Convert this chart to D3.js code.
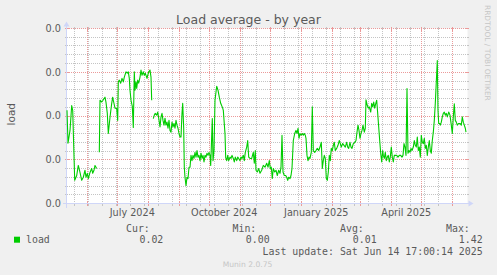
<!DOCTYPE html>
<html><head><meta charset="utf-8">
<script src="https://cdn.jsdelivr.net/npm/d3@7"></script>
<style>html,body{margin:0;padding:0;background:#f0f0f0;}svg{display:block;}</style>
</head><body>
<svg id="c" width="497" height="275"></svg>
<script>
// ---- data ----
const title = "Load average - by year";
const yLabel = "load";
const startTime = new Date(2024, 4, 10, 17, 0, 0);
const endTime = new Date(2025, 5, 14, 17, 0, 0);
const yTicks = [0, 0.01, 0.02, 0.03, 0.04];
const yTickLabels = ["0.0", "0.0", "0.0", "0.0", "0.0"];
const xLabelMonths = [new Date(2024, 6, 1), new Date(2024, 9, 1), new Date(2025, 0, 1), new Date(2025, 3, 1)];
const xLabels = ["July 2024", "October 2024", "January 2025", "April 2025"];
const seriesName = "load";
const legendHeads = ["Cur:", "Min:", "Avg:", "Max:"];
const legendValues = ["0.02", "0.00", "0.01", "1.42"];
const lastUpdate = "Last update: Sat Jun 14 17:00:14 2025";
const footer = "Munin 2.0.75";
const watermark = "RRDTOOL / TOBI OETIKER";

// days since startTime
const dayOffsets = [1,2,4,5.7,6.7,8.7,10.7,12.3,14,15.7,17.3,19,20,21.3,22.3,24,25.7,26.7,28,29,30.7,32,
33.3,34,35.7,37,39,40,41.3,42.3,44,45.7,46.7,47.3,49,50.7,51.7,52.3,53.3,54.7,56,57.3,58.3,60,61.3,62.3,63.3,64,65,66.3,67.3,68.3,69,70,70.7,71.7,72.7,74,75,76,77.3,78.3,79.3,81,81.7,82.7,84,85,85.7,86.5,
87.3,88.3,89.3,90.7,91.7,92.7,94,95,96,97,98,99,100,101,102,103,104,105,106,107,108,109,110,111,112,113,114,115,116,116.7,117.7,118.3,119,120,121,122,123,124,125,126,127,128,129,130,131,132,133,134,135,136,137,138,139,140,141,142,143,144,144.7,146.3,147,148,149,150.7,152,153.3,154.7,156.7,157.3,159,159.7,160.7,161.7,162.7,164,165,166,167.3,168.3,169.3,170.7,171.7,172.7,174,175,176,177.3,178.3,179.3,180.7,181.7,182.7,184,185.7,187.3,188.3,189.3,190,191.3,192.7,194,195.7,197.3,199,200.7,202,203.3,204.3,205.3,206.3,207.3,208.7,210,211.3,212.7,214,215,216,217,218.3,219.7,220.7,221.7,222.7,224,225,226,227.3,228.7,230,231,232,233,234,235,236.3,237.3,238.3,239.3,240,241,242,243,244,245.3,246.3,247.3,248.7,250,251.3,252.7,254,255.3,256.3,257.3,258.3,259.3,260.3,261.3,262.3,263.3,264.3,265.3,266.3,267.3,268.3,269.3,270.7,272,273.3,274.3,275.3,276.7,278,279.3,280.7,281.7,282.7,284,285,286,287.3,289,290,291,292,293,294,295,296,297,298.3,299.3,300,301.3,302.3,303.3,304.7,305.7,306.7,307.7,308.7,309.7,310.7,311.7,312.7,313.7,314.7,315.7,316.7,317.3,318.3,319.3,320.3,321.3,322.3,323.3,324.3,325.3,326.3,327.3,328.3,329.3,330.7,332,333.3,334.7,336,337,338,339,340,341,342,343,344,345,346,347.3,348.3,349.3,350.3,351.3,352.3,353.3,354.3,355.3,356.3,357.3,358.3,359.3,360.3,361.3,362.3,363.3,364.3,365.3,366.3,367.3,368.3,369.3,371.3,372,372.7,373.7,374.3,375.3,376.3,377.3,378.3,379.3,380.3,381.3,382.7,384,385.3,386.3,387.3,388.3,389.3,390.3,391.3,392.7,394,395.3,396.3,397.3,398.3,399.3,400];

const loadValues = [0.0213,0.0138,0.0167,0.0224,0.0213,0.0053,0.0064,0.0087,0.0071,0.0053,0.0060,0.0076,0.0060,0.0069,0.0057,0.0071,0.0080,0.0069,0.0076,0.0087,0.0080,null,
0.0117,0.0236,0.0232,0.0236,0.0243,0.0231,0.0206,0.0160,0.0197,0.0229,0.0243,0.0236,0.0218,0.0217,0.0190,0.0278,0.0282,0.0275,0.0286,0.0278,0.0289,0.0301,0.0298,0.0301,0.0286,0.0259,0.0236,0.0222,0.0174,0.0301,0.0259,0.0278,0.0263,0.0282,0.0275,0.0289,0.0305,0.0293,0.0301,0.0293,0.0298,0.0286,0.0293,0.0301,0.0305,0.0289,0.0236,null,
0.0194,0.0202,0.0206,0.0202,0.0209,0.0195,0.0175,0.0198,0.0206,0.0190,0.0179,0.0195,0.0179,0.0186,0.0172,0.0190,0.0167,0.0163,0.0186,0.0175,0.0183,0.0172,0.0190,0.0179,0.0172,0.0160,0.0152,0.0152,0.0206,0.0229,0.0172,0.0083,0.0060,0.0041,0.0060,0.0057,0.0083,0.0083,0.0110,0.0098,0.0110,0.0103,0.0117,0.0106,0.0121,0.0106,0.0110,0.0098,0.0115,0.0103,0.0110,0.0095,0.0110,0.0106,0.0115,0.0110,0.0117,0.0110,0.0087,0.0194,0.0098,0.0121,0.0236,0.0268,0.0259,0.0243,0.0229,0.0218,0.0213,0.0160,0.0105,0.0098,0.0110,0.0098,0.0106,0.0103,0.0110,0.0103,0.0095,0.0106,0.0098,0.0106,0.0103,0.0098,0.0106,0.0103,0.0110,0.0098,0.0117,0.0129,0.0144,0.0106,0.0103,0.0103,0.0117,0.0092,0.0121,0.0076,0.0072,0.0080,0.0069,0.0076,0.0087,0.0083,0.0092,0.0083,0.0098,0.0080,0.0083,0.0057,0.0080,0.0072,0.0076,0.0064,0.0076,0.0069,0.0083,0.0156,0.0072,0.0064,0.0064,0.0060,0.0053,0.0060,0.0057,0.0064,0.0080,0.0144,0.0160,0.0167,0.0160,0.0172,0.0149,0.0160,0.0156,0.0160,0.0156,0.0160,0.0156,0.0149,0.0110,0.0098,0.0106,0.0103,0.0117,0.0221,0.0121,0.0117,0.0121,0.0126,0.0121,0.0129,0.0140,0.0080,0.0098,0.0110,0.0103,0.0057,0.0053,0.0072,0.0110,0.0098,0.0126,0.0121,0.0133,0.0140,0.0121,0.0126,0.0133,0.0144,0.0137,0.0129,0.0137,0.0133,0.0129,0.0140,0.0129,0.0126,0.0140,0.0129,0.0126,0.0137,0.0140,0.0144,0.0163,0.0179,0.0167,0.0149,0.0160,0.0167,0.0179,0.0163,0.0172,0.0237,0.0224,0.0218,0.0221,0.0209,0.0229,0.0221,0.0232,0.0218,0.0228,0.0236,0.0206,0.0175,0.0144,0.0115,0.0095,0.0121,0.0110,0.0103,0.0117,0.0098,0.0106,0.0110,0.0095,0.0106,0.0129,0.0106,0.0095,0.0110,0.0110,0.0110,0.0106,0.0110,0.0110,0.0106,0.0110,0.0137,0.0129,0.0110,0.0263,0.0115,0.0121,0.0117,0.0126,0.0121,0.0129,0.0144,0.0133,0.0129,0.0152,0.0121,0.0129,0.0106,0.0156,0.0140,0.0137,0.0149,0.0126,0.0133,0.0110,0.0129,0.0144,0.0121,0.0115,0.0144,0.0163,0.0190,0.0229,0.0327,0.0213,0.0183,0.0183,0.0179,0.0186,0.0198,0.0206,0.0209,0.0202,0.0206,0.0198,0.0209,0.0202,0.0179,0.0160,0.0198,0.0228,0.0190,0.0186,0.0179,0.0183,0.0183,0.0179,0.0198,0.0186,0.0179,0.0172,0.0163];

// ---- drawing ----
const svg = d3.select("#c");
const W = 497, H = 275;
const X0 = 66.5, X1 = 466.5, Y0 = 203.5, Y1 = 28.5;
const x = d3.scaleTime().domain([startTime, endTime]).range([66, 466]);
const y = d3.scaleLinear().domain([0, 0.04]).range([Y0, Y1]);
const snap = v => Math.floor(v) + 0.5;
const FONT = "DejaVu Sans, Verdana, sans-serif";
const MONO = "DejaVu Sans Mono, monospace";
const TXT = "#5a5a5a";
const GRID = "#c4c4c4";
const MGRID = "#eb9a9a";
const AXIS = "#CFD6F8";

svg.append("rect").attr("width", W).attr("height", H).attr("fill", "#f0f0f0");
svg.append("rect").attr("x", X0).attr("y", Y1).attr("width", X1 - X0 + 1).attr("height", Y0 - Y1).attr("fill", "#ffffff");

const g = svg.append("g");
function seg(x1, y1, x2, y2, col, dash) {
  const l = g.append("line").attr("x1", x1).attr("y1", y1).attr("x2", x2).attr("y2", y2)
    .attr("stroke", col).attr("stroke-width", 1).attr("shape-rendering", "crispEdges");
  if (dash) l.attr("stroke-dasharray", dash);
}

// horizontal grid
const minorY = d3.range(0, 41).map(i => i * 0.001).filter((v, i) => i % 2 === 0 && i % 10 !== 0);
minorY.forEach(v => {
  const yy = snap(y(v));
  seg(X0 - 2, yy, X0, yy, GRID);
  seg(X1, yy, X1 + 2, yy, GRID);
  seg(X0, yy, X1, yy, GRID, "1,1");
});
yTicks.forEach(v => {
  const yy = snap(y(v));
  seg(X0 - 2, yy, X0 + 2, yy, MGRID);
  seg(X1 - 2, yy, X1 + 2, yy, MGRID);
  seg(X0, yy, X1, yy, MGRID, "1,1");
});

// vertical grid: minor every two weeks, major monthly
const minorX = [];
for (let t = new Date(2024, 4, 19); t < endTime; t = d3.timeDay.offset(t, 14)) minorX.push(t);
minorX.forEach(t => {
  const xx = snap(x(t));
  seg(xx, Y0, xx, Y0 + 2, GRID);
  seg(xx, Y1 - 2, xx, Y1, GRID);
  seg(xx, Y1, xx, Y0, GRID, "1,1");
});
d3.timeMonth.range(d3.timeMonth.ceil(startTime), endTime).forEach(t => {
  const xx = snap(x(t));
  seg(xx, Y0 - 2, xx, Y0 + 2, MGRID);
  seg(xx, Y1 - 2, xx, Y1 + 2, MGRID);
  seg(xx, Y1, xx, Y0, MGRID, "1,1");
});

// data line
const data = dayOffsets.map((d, i) => ({ t: new Date(startTime.getTime() + d * 86400000), v: loadValues[i] }));
const line = d3.line().defined(d => d.v != null).x(d => x(d.t)).y(d => y(Math.min(d.v, 0.04)));
svg.append("path").datum(data).attr("d", line).attr("fill", "none")
  .attr("stroke", "#00cc00").attr("stroke-width", 1.1).attr("stroke-linejoin", "round");

// axes
seg(X0 - 4, Y0, X1 + 4, Y0, AXIS);
seg(X0, Y0 + 4, X0, Y1 - 4, AXIS);
svg.append("path").attr("d", `M${X1 + 2},${Y0 - 3}L${X1 + 2},${Y0 + 3}L${X1 + 7},${Y0}Z`).attr("fill", AXIS);
svg.append("path").attr("d", `M${X0 - 3},${Y1 - 2}L${X0 + 3},${Y1 - 2}L${X0},${Y1 - 7}Z`).attr("fill", AXIS);

// y labels
yTicks.forEach((v, i) => {
  svg.append("text").attr("x", 61).attr("y", y(v) + 3.3).attr("text-anchor", "end")
    .attr("font-family", FONT).attr("font-size", 9.7).attr("fill", TXT).text(yTickLabels[i]);
});
// x labels (centered half a month after the month start)
xLabelMonths.forEach((m, i) => {
  svg.append("text").attr("x", x(d3.timeDay.offset(m, 15))).attr("y", 215.5).attr("text-anchor", "middle")
    .attr("font-family", FONT).attr("font-size", 9.7).attr("fill", TXT).text(xLabels[i]);
});

// title
svg.append("text").attr("x", 248.5).attr("y", 24).attr("text-anchor", "middle")
  .attr("font-family", FONT).attr("font-size", 12.5).attr("fill", TXT).text(title);
// y axis label
svg.append("text").attr("transform", "translate(15,114.2) rotate(-90)").attr("text-anchor", "middle")
  .attr("font-family", FONT).attr("font-size", 10.5).attr("fill", TXT).text(yLabel);
// watermark
svg.append("text").attr("transform", "translate(484.5,5) rotate(90)").attr("text-anchor", "start")
  .attr("font-family", FONT).attr("font-size", 7.45).attr("fill", "#c6c6c6").text(watermark);

// legend
svg.append("rect").attr("x", 14).attr("y", 236.7).attr("width", 6).attr("height", 6).attr("fill", "#00cc00");
svg.append("text").attr("x", 26).attr("y", 242.5).attr("font-family", MONO).attr("font-size", 9.9).attr("fill", TXT).text(seriesName);
const headX = [126, 232.5, 340, 446];
const valEnd = [163.3, 269.6, 376.6, 482.6];
legendHeads.forEach((h, i) => {
  svg.append("text").attr("x", headX[i]).attr("y", 232).attr("font-family", MONO).attr("font-size", 9.9).attr("fill", TXT).text(h);
  svg.append("text").attr("x", valEnd[i]).attr("y", 242.5).attr("text-anchor", "end").attr("font-family", MONO).attr("font-size", 9.9).attr("fill", TXT).text(legendValues[i]);
});
svg.append("text").attr("x", 482.6).attr("y", 255).attr("text-anchor", "end").attr("font-family", MONO).attr("font-size", 9.9).attr("fill", TXT).text(lastUpdate);
svg.append("text").attr("x", 247.5).attr("y", 266.5).attr("text-anchor", "middle").attr("font-family", FONT).attr("font-size", 7.6).attr("fill", "#c6c6c6").text(footer);
</script>
</body></html>
